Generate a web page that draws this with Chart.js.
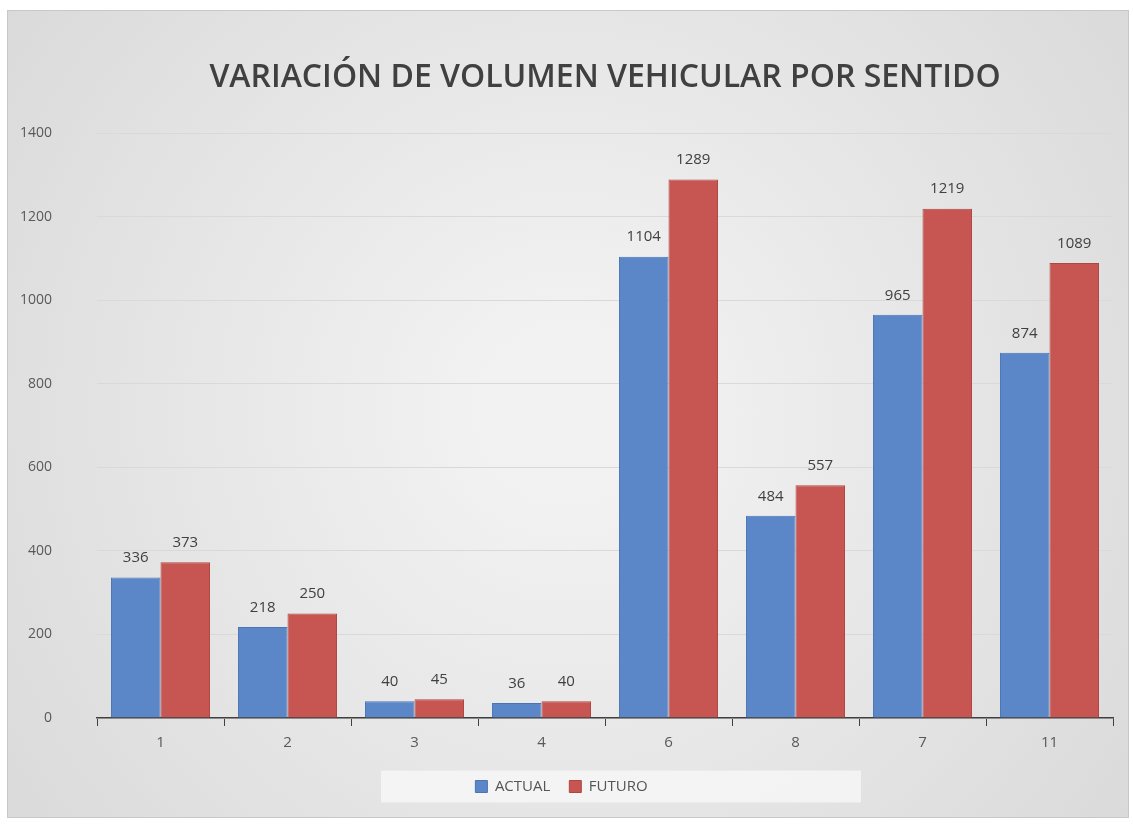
<!DOCTYPE html>
<html>
<head>
<meta charset="utf-8">
<title>Variación de volumen vehicular por sentido</title>
<script src="https://cdn.jsdelivr.net/npm/chart.js@4.4.1/dist/chart.umd.min.js"></script>
<style>
  html, body { margin: 0; padding: 0; background: #ffffff; }
  #wrap { width: 1133px; height: 827px; position: relative; }
</style>
</head>
<body>
<div id="wrap"><canvas id="chart" width="1133" height="827"></canvas></div>
<script>
// data
const categories = ["1", "2", "3", "4", "6", "8", "7", "11"];
const actualValues = [336, 218, 40, 36, 1104, 484, 965, 874];
const futuroValues = [373, 250, 45, 40, 1289, 557, 1219, 1089];
const yTicks = [0, 200, 400, 600, 800, 1000, 1200, 1400];
const chartTitle = "VARIACIÓN DE VOLUMEN VEHICULAR POR SENTIDO";

const textColor = "#404040";
const fontFamily = "'Open Sans', 'Liberation Sans', sans-serif";

// grey panel behind everything, like the spreadsheet chart area
const panelBackground = {
  id: "panelBackground",
  beforeDraw(chart) {
    const ctx = chart.ctx;
    const w = chart.width, h = chart.height;
    ctx.save();
    const g = ctx.createRadialGradient(w / 2, h / 2, 80, w / 2, h / 2, w * 0.7);
    g.addColorStop(0, "#f2f2f2");
    g.addColorStop(1, "#d6d6d6");
    ctx.fillStyle = g;
    ctx.fillRect(7, 10, w - 11, h - 19);
    ctx.strokeStyle = "#c8c8c8";
    ctx.lineWidth = 1;
    ctx.strokeRect(7.5, 10.5, w - 12, h - 20);

    // lighter strip behind the legend
    const lg = chart.legend;
    if (lg && lg.legendHitBoxes && lg.legendHitBoxes.length) {
      const cx = (chart.chartArea.left + chart.chartArea.right) / 2 + 16;
      const boxes = lg.legendHitBoxes;
      const mid = boxes[0].top + boxes[0].height / 2;
      ctx.fillStyle = "rgba(248,248,248,0.75)";
      ctx.fillRect(cx - 240, mid - 16, 480, 32);
    }

    // title, centred over the plot area
    ctx.font = "600 32px " + fontFamily;
    ctx.fillStyle = textColor;
    ctx.textAlign = "center";
    ctx.textBaseline = "middle";
    ctx.fillText(chartTitle, (chart.chartArea.left + chart.chartArea.right) / 2, 78);
    ctx.restore();
  }
};

// value labels above each bar
const barValueLabels = {
  id: "barValueLabels",
  afterDatasetsDraw(chart) {
    const ctx = chart.ctx;
    ctx.save();
    ctx.font = "15px " + fontFamily;
    ctx.fillStyle = textColor;
    ctx.textAlign = "center";
    ctx.textBaseline = "bottom";
    chart.data.datasets.forEach((ds, i) => {
      const meta = chart.getDatasetMeta(i);
      meta.data.forEach((bar, j) => {
        ctx.fillText(String(ds.data[j]), bar.x, bar.y - 12);
      });
    });
    ctx.restore();
  }
};

const ctx = document.getElementById("chart").getContext("2d");

new Chart(ctx, {
  type: "bar",
  data: {
    labels: categories,
    datasets: [
      {
        label: "ACTUAL",
        data: actualValues,
        backgroundColor: "#5b87c9",
        borderColor: "#4a74b3",
        borderWidth: 1,
      },
      {
        label: "FUTURO",
        data: futuroValues,
        backgroundColor: "#c75552",
        borderColor: "#b04643",
        borderWidth: 1,
      },
    ],
  },
  options: {
    responsive: false,
    animation: false,
    devicePixelRatio: 1,
    layout: { padding: { left: 10, right: 20, top: 133, bottom: 23 } },
    datasets: {
      bar: { categoryPercentage: 0.78, barPercentage: 1.0 },
    },
    plugins: {
      tooltip: { enabled: false },
      title: { display: false },
      legend: {
        position: "bottom",
        labels: {
          color: "#555555",
          font: { family: fontFamily, size: 15 },
          boxWidth: 12,
          boxHeight: 12,
          padding: 19,
        },
      },
    },
    scales: {
      x: {
        grid: {
          display: true,
          offset: true,
          drawOnChartArea: false,
          color: "#404040",
          tickLength: 8,
        },
        border: { display: true, color: "#404040", width: 1.5 },
        ticks: {
          color: "#595959",
          font: { family: fontFamily, size: 15 },
          padding: 8,
        },
      },
      y: {
        min: 0,
        max: 1400,
        afterBuildTicks(scale) {
          scale.ticks = yTicks.map((v) => ({ value: v }));
        },
        afterFit(scale) {
          scale.width = 87;
        },
        grid: { color: "#d9d9d9", drawTicks: false },
        border: { display: false },
        ticks: {
          color: "#595959",
          font: { family: fontFamily, size: 14 },
          padding: 45,
          callback: (v) => String(v),
        },
      },
    },
  },
  plugins: [panelBackground, barValueLabels],
});
</script>
</body>
</html>
